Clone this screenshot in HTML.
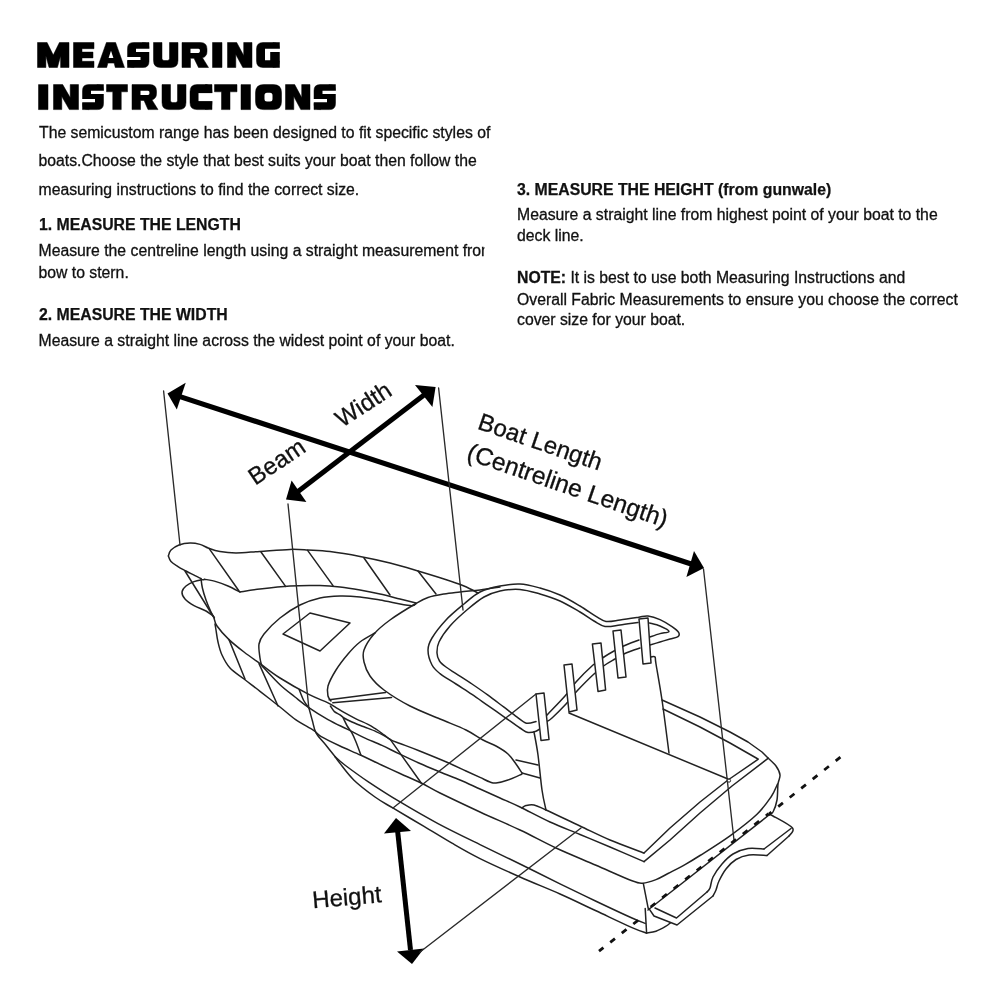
<!DOCTYPE html>
<html><head><meta charset="utf-8"><title>Measuring Instructions</title>
<style>
html,body{margin:0;padding:0;background:#fff;}
body{width:1000px;height:1000px;overflow:hidden;position:relative;}
svg{position:absolute;left:0;top:0;will-change:transform;}
text{font-family:"Liberation Sans",sans-serif;fill:#111;}
.b{font-size:15.77px;stroke:#111;stroke-width:0.3px;}
.h{font-size:15.8px;font-weight:bold;stroke:#111;stroke-width:0.25px;}
.t{font-size:31px;font-weight:bold;fill:#000;stroke:#000;stroke-width:2.2px;stroke-linejoin:miter;letter-spacing:0.9px;}
.lab{font-size:24px;fill:#111;stroke:#111;stroke-width:0.3px;}
.thin{fill:none;stroke:#2a2a2a;stroke-width:1.35;stroke-linecap:round;stroke-linejoin:round;}
.boat{fill:none;stroke:#222;stroke-width:1.5;stroke-linecap:round;stroke-linejoin:round;}
.st{fill:#fff;stroke:#222;stroke-width:1.5;stroke-linejoin:round;}
.dash{fill:none;stroke:#111;stroke-width:2.8;stroke-dasharray:6 8.7;}
.arr{stroke:#000;stroke-width:5.2;fill:none;}
.head{fill:#000;stroke:none;}
</style></head>
<body>
<svg width="1000" height="1000" viewBox="0 0 1000 1000">
<rect width="1000" height="1000" fill="#fff"/>
<!-- TITLE -->
<g id="title" fill="#000">
<path transform="translate(37.5,42.5)" stroke="#000" stroke-width="0.5" stroke-linejoin="round" d="M0.00,0.00 L9.60,0.00 L15.75,12.60 L21.90,0.00 L31.50,0.00 L31.50,25.00 L23.10,25.00 L23.10,13.50 L19.95,25.00 L11.55,25.00 L8.40,13.50 L8.40,25.00 L0.00,25.00Z"/>
<path transform="translate(73.5,42.5)" stroke="#000" stroke-width="0.5" stroke-linejoin="round" d="M0.00,0.00 L20.50,0.00 L20.50,6.20 L8.50,6.20 L8.50,9.60 L19.50,9.60 L19.50,15.40 L8.50,15.40 L8.50,18.80 L20.50,18.80 L20.50,25.00 L0.00,25.00Z"/>
<path transform="translate(97.5,42.5)" stroke="#000" stroke-width="0.5" stroke-linejoin="round" d="M8.90,0.00 L18.10,0.00 L27.00,25.00 L17.80,25.00 L16.60,20.60 L10.40,20.60 L9.20,25.00 L0.00,25.00Z"/>
<path transform="translate(97.5,42.5)" fill="#fff" d="M13.50,8.20 L11.10,15.40 L15.90,15.40Z"/>
<path transform="translate(127.5,42.5)" stroke="#000" stroke-width="0.5" stroke-linejoin="round" d="M6.00,0.00 h9.50 q6.00,0 6.00,6.00 v13.00 q0,6.00 -6.00,6.00 h-9.50 q-6.00,0 -6.00,-6.00 v-13.00 q0,-6.00 6.00,-6.00zM15.00,0.00 h6.50 v6.20 h-6.50zM0.00,18.80 h6.50 v6.20 h-6.50z"/>
<path transform="translate(127.5,42.5)" fill="#fff" d="M8.50,6.20 h21.50 v3.20 h-21.50zM-1.00,14.40 h14.00 v3.20 h-14.00z"/>
<path transform="translate(153.5,42.5)" stroke="#000" stroke-width="0.5" stroke-linejoin="round" d="M0,0 H8.50 V16.00 q0,2 2,2 H14.00 q2,0 2,-2 V0 H24.50 V18.00 q0,7 -7,7 H7 q-7,0 -7,-7Z"/>
<path transform="translate(182.0,42.5)" stroke="#000" stroke-width="0.5" stroke-linejoin="round" d="M0,0 H18.50 q6.5,0 6.5,6.5 v2.5 q0,5 -4.5,6.3 L26.50,25.00 H16.50 L12.00,15.8 H8.50 V25.00 H0Z"/>
<path transform="translate(182.0,42.5)" fill="#fff" d="M8.50,6.20 H16.50 q1.5,0 1.5,2.1 q0,2.1 -1.5,2.1 H8.50Z"/>
<path transform="translate(212.5,42.5)" stroke="#000" stroke-width="0.5" stroke-linejoin="round" d="M0.00,0.00 L9.50,0.00 L9.50,25.00 L0.00,25.00Z"/>
<path transform="translate(227.5,42.5)" stroke="#000" stroke-width="0.5" stroke-linejoin="round" d="M0.00,0.00 L9.20,0.00 L16.20,13.00 L16.20,0.00 L24.50,0.00 L24.50,25.00 L15.30,25.00 L8.30,12.00 L8.30,25.00 L0.00,25.00Z"/>
<path transform="translate(256.5,42.5)" stroke="#000" stroke-width="0.5" stroke-linejoin="round" d="M6.50,0.00 h10.00 q6.50,0 6.50,6.50 v12.00 q0,6.50 -6.50,6.50 h-10.00 q-6.50,0 -6.50,-6.50 v-12.00 q0,-6.50 6.50,-6.50zM16.50,0.00 h6.50 v6.20 h-6.50zM16.50,18.50 h6.50 v6.50 h-6.50z"/>
<path transform="translate(256.5,42.5)" fill="#fff" d="M8.50,6.20 h23.00 v3.40 h-23.00zM8.50,9.50 h5.20 v8.30 h-5.20z"/>
<path transform="translate(38.5,84.6)" stroke="#000" stroke-width="0.5" stroke-linejoin="round" d="M0.00,0.00 L9.50,0.00 L9.50,25.00 L0.00,25.00Z"/>
<path transform="translate(53.5,84.6)" stroke="#000" stroke-width="0.5" stroke-linejoin="round" d="M0.00,0.00 L9.20,0.00 L16.70,13.00 L16.70,0.00 L25.00,0.00 L25.00,25.00 L15.80,25.00 L8.30,12.00 L8.30,25.00 L0.00,25.00Z"/>
<path transform="translate(82.5,84.6)" stroke="#000" stroke-width="0.5" stroke-linejoin="round" d="M6.00,0.00 h9.00 q6.00,0 6.00,6.00 v13.00 q0,6.00 -6.00,6.00 h-9.00 q-6.00,0 -6.00,-6.00 v-13.00 q0,-6.00 6.00,-6.00zM14.50,0.00 h6.50 v6.20 h-6.50zM0.00,18.80 h6.50 v6.20 h-6.50z"/>
<path transform="translate(82.5,84.6)" fill="#fff" d="M8.50,6.20 h21.00 v3.20 h-21.00zM-1.00,14.40 h13.50 v3.20 h-13.50z"/>
<path transform="translate(106.5,84.6)" stroke="#000" stroke-width="0.5" stroke-linejoin="round" d="M0.00,0.00 L21.00,0.00 L21.00,7.20 L14.75,7.20 L14.75,25.00 L6.25,25.00 L6.25,7.20 L0.00,7.20Z"/>
<path transform="translate(132.0,84.6)" stroke="#000" stroke-width="0.5" stroke-linejoin="round" d="M0,0 H18.00 q6.5,0 6.5,6.5 v2.5 q0,5 -4.5,6.3 L26.00,25.00 H16.00 L12.00,15.8 H8.50 V25.00 H0Z"/>
<path transform="translate(132.0,84.6)" fill="#fff" d="M8.50,6.20 H16.00 q1.5,0 1.5,2.1 q0,2.1 -1.5,2.1 H8.50Z"/>
<path transform="translate(162.0,84.6)" stroke="#000" stroke-width="0.5" stroke-linejoin="round" d="M0,0 H8.50 V16.00 q0,2 2,2 H13.50 q2,0 2,-2 V0 H24.00 V18.00 q0,7 -7,7 H7 q-7,0 -7,-7Z"/>
<path transform="translate(190.0,84.6)" stroke="#000" stroke-width="0.5" stroke-linejoin="round" d="M7.00,0.00 h8.00 q7.00,0 7.00,7.00 v11.00 q0,7.00 -7.00,7.00 h-8.00 q-7.00,0 -7.00,-7.00 v-11.00 q0,-7.00 7.00,-7.00zM15.50,0.00 h6.50 v8.50 h-6.50zM15.50,16.50 h6.50 v8.50 h-6.50z"/>
<path transform="translate(190.0,84.6)" fill="#fff" d="M8.50,8.50 h22.00 v8.00 h-22.00z"/>
<path transform="translate(214.5,84.6)" stroke="#000" stroke-width="0.5" stroke-linejoin="round" d="M0.00,0.00 L22.50,0.00 L22.50,7.20 L15.50,7.20 L15.50,25.00 L7.00,25.00 L7.00,7.20 L0.00,7.20Z"/>
<path transform="translate(241.0,84.6)" stroke="#000" stroke-width="0.5" stroke-linejoin="round" d="M0.00,0.00 L9.50,0.00 L9.50,25.00 L0.00,25.00Z"/>
<path transform="translate(255.5,84.6)" stroke="#000" stroke-width="0.5" stroke-linejoin="round" d="M8.00,0.00 h10.00 q8.00,0 8.00,8.00 v9.00 q0,8.00 -8.00,8.00 h-10.00 q-8.00,0 -8.00,-8.00 v-9.00 q0,-8.00 8.00,-8.00z"/>
<path transform="translate(255.5,84.6)" fill="#fff" d="M11.50,8.20 h3.00 q2.50,0 2.50,2.50 v3.60 q0,2.50 -2.50,2.50 h-3.00 q-2.50,0 -2.50,-2.50 v-3.60 q0,-2.50 2.50,-2.50z"/>
<path transform="translate(285.5,84.6)" stroke="#000" stroke-width="0.5" stroke-linejoin="round" d="M0.00,0.00 L9.20,0.00 L16.20,13.00 L16.20,0.00 L24.50,0.00 L24.50,25.00 L15.30,25.00 L8.30,12.00 L8.30,25.00 L0.00,25.00Z"/>
<path transform="translate(314.0,84.6)" stroke="#000" stroke-width="0.5" stroke-linejoin="round" d="M6.00,0.00 h9.50 q6.00,0 6.00,6.00 v13.00 q0,6.00 -6.00,6.00 h-9.50 q-6.00,0 -6.00,-6.00 v-13.00 q0,-6.00 6.00,-6.00zM15.00,0.00 h6.50 v6.20 h-6.50zM0.00,18.80 h6.50 v6.20 h-6.50z"/>
<path transform="translate(314.0,84.6)" fill="#fff" d="M8.50,6.20 h21.50 v3.20 h-21.50zM-1.00,14.40 h14.00 v3.20 h-14.00z"/>
</g>
<!-- LEFT TEXT -->
<g id="lefttext">
<text class="b" x="39" y="138.2">The semicustom range has been designed to fit specific styles of</text>
<text class="b" x="38.5" y="166.3">boats.Choose the style that best suits your boat then follow the</text>
<text class="b" x="38.5" y="194.5">measuring instructions to find the correct size.</text>
<text class="h" x="39" y="229.5">1. MEASURE THE LENGTH</text>
<text class="b" x="38.5" y="256.2">Measure the centreline length using a straight measurement from</text>
<text class="b" x="38.5" y="277.5">bow to stern.</text>
<text class="h" x="39" y="319.5">2. MEASURE THE WIDTH</text>
<text class="b" x="38.5" y="345.5">Measure a straight line across the widest point of your boat.</text>
<rect x="484.5" y="240" width="20" height="24" fill="#fff"/>
</g>
<!-- RIGHT TEXT -->
<g id="righttext">
<text class="h" x="517" y="194.5">3. MEASURE THE HEIGHT (from gunwale)</text>
<text class="b" x="517" y="220">Measure a straight line from highest point of your boat to the</text>
<text class="b" x="517" y="241.3">deck line.</text>
<text class="b" x="517" y="283.3"><tspan font-weight="bold">NOTE:</tspan> It is best to use both Measuring Instructions and</text>
<text class="b" x="517" y="304.5">Overall Fabric Measurements to ensure you choose the correct</text>
<text class="b" x="517" y="325">cover size for your boat.</text>
</g>
<!-- ARROWS -->
<g id="arrows">
<line class="arr" x1="180" y1="396.6" x2="692" y2="564.2"/>
<polygon class="head" points="167.5,393.5 185.7,382.8 176.8,409.6"/>
<polygon class="head" points="704,568 694,551 686.4,577"/>
<line class="arr" style="stroke-width:5" x1="298" y1="491.5" x2="424" y2="395"/>
<polygon class="head" points="286,499.6 291.6,480.6 306.4,502"/>
<polygon class="head" points="435.6,387 415,385 432.4,407"/>
<line class="arr" stroke-width="5" x1="397.5" y1="830" x2="410.5" y2="950" style="stroke-width:5"/>
<polygon class="head" points="396,818 384,833.6 411,831"/>
<polygon class="head" points="412,964 397,951.6 424,948.4"/>
</g>
<!-- LABELS -->
<g id="labels">
<text class="lab" transform="translate(255.3,485.8) rotate(-34)">Beam</text>
<text class="lab" transform="translate(342,428) rotate(-33)">Width</text>
<text class="lab" transform="translate(476.5,428.5) rotate(19)">Boat Length</text>
<text class="lab" style="font-size:24.6px" transform="translate(465.5,459) rotate(19)">(Centreline Length)</text>
<text class="lab" transform="translate(313,908.3) rotate(-5)">Height</text>
</g>
<!-- THIN PROJECTION LINES -->
<g id="proj"></g>
<!-- BOAT -->
<g id="boat">
<path class="boat" d="M168.4,556.0 C168.8,555.0 169.2,551.8 171.0,550.0 C172.8,548.2 175.8,546.2 179.0,545.0 C182.2,543.8 186.5,543.1 190.0,543.0 C193.5,542.9 196.8,543.5 200.0,544.4 C203.2,545.3 205.7,547.2 209.0,548.4 C212.3,549.6 215.5,550.8 220.0,551.6 C224.5,552.4 229.3,553.0 236.0,553.0 C242.7,553.0 251.0,552.0 260.0,551.4 C269.0,550.8 282.0,549.6 290.0,549.4 C298.0,549.2 301.3,549.6 308.0,550.0 C314.7,550.4 321.3,550.5 330.0,551.6 C338.7,552.7 350.0,554.6 360.0,556.5 C370.0,558.4 380.3,560.6 390.0,563.0 C399.7,565.4 409.0,568.3 418.0,571.0 C427.0,573.7 436.3,576.5 444.0,579.0 C451.7,581.5 458.3,583.7 464.0,586.0 C469.7,588.3 475.7,591.8 478.0,593.0"/>
<path class="boat" d="M168.4,556.0 C168.8,556.9 169.4,559.8 171.0,561.6 C172.6,563.4 175.5,565.0 178.0,566.6 C180.5,568.2 183.2,569.5 186.0,571.0 C188.8,572.5 192.5,574.3 195.0,575.6 C197.5,576.9 200.0,578.1 201.0,578.6"/>
<path class="boat" d="M204.4,579.2 C206.3,579.6 212.1,580.5 216.0,581.6 C219.9,582.7 224.0,584.3 228.0,586.0 C232.0,587.7 238.0,591.0 240.0,592.0"/>
<path class="boat" d="M240.0,592.0 C243.3,591.5 251.7,590.0 260.0,589.0 C268.3,588.0 280.0,586.6 290.0,586.0 C300.0,585.4 311.7,585.4 320.0,585.6 C328.3,585.8 333.3,586.3 340.0,587.0 C346.7,587.7 353.3,588.8 360.0,590.0 C366.7,591.2 373.3,592.5 380.0,594.0 C386.7,595.5 394.0,597.5 400.0,599.0 C406.0,600.5 413.3,602.3 416.0,603.0"/>
<path class="boat" d="M209.0,548.4 L239.0,591.0"/>
<path class="boat" d="M261.0,552.0 L285.6,586.4"/>
<path class="boat" d="M307.6,550.4 L333.0,585.6"/>
<path class="boat" d="M364.0,558.0 L390.0,595.0"/>
<path class="boat" d="M418.0,571.0 L436.0,594.0"/>
<path class="boat" d="M204.4,579.4 C202.7,579.8 197.1,580.5 194.0,581.6 C190.9,582.7 188.0,584.3 186.0,586.0 C184.0,587.7 182.2,589.8 182.0,592.0 C181.8,594.2 183.0,596.7 185.0,599.0 C187.0,601.3 190.5,603.6 194.0,605.6 C197.5,607.6 202.7,609.2 206.0,611.0 C209.3,612.8 212.3,615.5 213.6,616.4"/>
<path class="boat" d="M185.0,571.0 L213.6,617.0"/>
<path class="boat" d="M201.0,578.6 C201.2,580.2 201.6,584.4 202.4,588.0 C203.2,591.6 204.6,596.0 206.0,600.0 C207.4,604.0 209.6,609.0 211.0,612.0 C212.4,615.0 213.8,617.0 214.4,618.0"/>
<path class="boat" d="M214.0,618.0 C214.5,619.3 214.5,622.4 217.0,626.0 C219.5,629.6 224.5,635.3 229.0,639.6 C233.5,643.9 238.8,648.0 244.0,652.0 C249.2,656.0 254.0,659.3 260.0,663.6 C266.0,667.9 271.9,672.9 280.0,678.0 C288.1,683.1 300.8,690.3 308.8,694.4 C316.8,698.5 323.5,700.6 328.0,702.8 C332.5,705.0 333.3,706.0 336.0,707.6 C338.7,709.2 340.7,710.5 344.0,712.4 C347.3,714.3 352.0,716.8 356.0,718.8 C360.0,720.8 364.7,722.7 368.0,724.4 C371.3,726.1 373.3,727.5 376.0,729.2 C378.7,730.9 381.6,733.1 384.0,734.8 C386.4,736.5 387.7,738.1 390.4,739.6 C393.1,741.1 395.3,741.7 400.0,743.5 C404.7,745.3 410.7,747.4 418.4,750.5 C426.1,753.6 438.5,758.6 446.4,762.0 C454.3,765.4 460.4,768.4 466.0,771.0 C471.6,773.6 476.0,775.6 480.0,777.4 C484.0,779.2 487.3,781.1 490.0,782.0 C492.7,782.9 493.0,783.3 496.0,783.0 C499.0,782.7 503.7,781.5 508.0,780.0 C512.3,778.5 519.7,775.0 522.0,774.0"/>
<path class="boat" d="M330.4,706.0 C331.1,706.9 332.8,710.1 334.4,711.6 C336.0,713.1 338.4,713.7 340.0,714.8 C341.6,715.9 342.0,716.8 344.0,718.0 C346.0,719.2 348.7,720.5 352.0,722.0 C355.3,723.5 360.0,725.2 364.0,726.8 C368.0,728.4 372.7,730.1 376.0,731.6 C379.3,733.1 381.6,734.3 384.0,735.6 C386.4,736.9 389.3,738.9 390.4,739.6"/>
<path class="boat" d="M262.0,666.0 C265.0,669.1 274.5,679.6 280.0,684.8 C285.5,690.0 290.2,693.2 295.0,697.0 C299.8,700.8 303.3,703.8 308.8,707.6 C314.3,711.4 321.6,716.0 328.0,719.6 C334.4,723.2 341.2,726.2 347.2,729.2 C353.2,732.2 358.2,734.9 364.0,737.6 C369.8,740.3 376.2,742.7 382.0,745.4 C387.8,748.1 392.5,750.6 398.8,753.6 C405.1,756.6 413.1,760.4 420.0,763.5 C426.9,766.6 433.3,769.2 440.0,772.0 C446.7,774.8 453.3,777.2 460.0,780.0 C466.7,782.8 473.3,786.0 480.0,789.0 C486.7,792.0 493.3,795.0 500.0,798.0 C506.7,801.0 511.7,803.0 520.0,807.0 C528.3,811.0 540.0,817.4 550.0,822.0 C560.0,826.6 570.0,830.3 580.0,834.5 C590.0,838.7 599.3,842.5 610.0,847.0 C620.7,851.5 638.3,859.2 644.0,861.6"/>
<path class="boat" d="M215.0,624.0 C215.2,625.0 215.5,627.0 216.0,630.0 C216.5,633.0 217.0,637.8 218.0,642.0 C219.0,646.2 220.0,650.7 222.0,655.0 C224.0,659.3 226.3,664.0 230.0,668.0 C233.7,672.0 239.0,675.1 244.0,679.0 C249.0,682.9 254.0,686.6 260.0,691.3 C266.0,696.0 274.1,702.3 280.0,707.0 C285.9,711.7 290.0,715.7 295.6,719.6 C301.2,723.5 309.4,727.6 313.6,730.4 C317.8,733.2 316.4,733.8 320.8,736.4 C325.2,739.0 333.3,742.9 340.0,746.0 C346.7,749.1 354.0,752.1 361.0,755.3 C368.0,758.5 375.5,762.2 382.0,765.2 C388.5,768.2 393.5,770.5 400.0,773.5 C406.5,776.5 414.5,779.8 421.2,783.0 C427.9,786.2 430.2,788.2 440.0,793.0 C449.8,797.8 466.7,805.8 480.0,812.0 C493.3,818.2 507.3,824.0 520.0,830.0 C532.7,836.0 543.3,842.1 556.0,848.0 C568.7,853.9 583.3,859.7 596.0,865.2 C608.7,870.7 624.2,877.8 632.0,880.8 C639.8,883.8 638.8,883.4 642.8,883.2 C646.8,883.0 651.8,881.2 656.0,879.6 C660.2,878.0 663.2,876.0 668.0,873.5 C672.8,871.0 679.7,867.6 685.0,864.6 C690.3,861.6 692.5,860.3 700.0,855.5 C707.5,850.7 720.5,842.7 730.0,835.8 C739.5,828.9 750.2,820.7 757.0,814.2 C763.8,807.7 767.6,802.0 771.0,797.0 C774.4,792.0 776.4,786.2 777.5,784.0"/>
<path class="boat" d="M308.8,707.6 C309.4,709.8 311.2,716.6 312.4,720.8 C313.6,725.0 313.8,728.8 316.0,732.8 C318.2,736.8 322.4,740.8 325.6,744.8 C328.8,748.8 333.6,754.8 335.2,756.8"/>
<path class="boat" d="M335.2,756.8 C336.8,758.2 339.3,760.9 344.8,765.0 C350.3,769.1 359.0,775.6 368.0,781.6 C377.0,787.6 387.1,794.2 398.8,801.2 C410.5,808.2 424.5,816.4 438.0,823.6 C451.5,830.8 466.3,837.9 480.0,844.6 C493.7,851.3 506.7,857.5 520.0,864.0 C533.3,870.5 547.3,877.6 560.0,883.8 C572.7,890.0 584.0,895.5 596.0,901.2 C608.0,906.9 623.8,914.3 632.0,918.0 C640.2,921.7 643.0,922.5 645.2,923.4"/>
<path class="boat" d="M335.2,756.8 C336.0,757.9 336.9,759.5 340.0,763.4 C343.1,767.3 348.2,774.6 354.0,780.2 C359.8,785.8 368.5,792.3 375.0,797.0 C381.5,801.7 385.0,803.3 393.2,808.2 C401.4,813.1 414.2,820.6 424.0,826.4 C433.8,832.2 442.7,837.8 452.0,843.2 C461.3,848.6 468.7,853.0 480.0,858.6 C491.3,864.2 506.7,871.1 520.0,877.0 C533.3,882.9 547.3,888.4 560.0,894.0 C572.7,899.6 584.0,905.2 596.0,910.8 C608.0,916.4 623.6,923.9 632.0,927.6 C640.4,931.3 644.0,932.1 646.4,933.0"/>
<path class="boat" d="M229.0,639.6 L245.0,679.0"/>
<path class="boat" d="M259.0,663.6 L278.0,706.0"/>
<path class="boat" d="M299.2,689.6 C300.0,691.5 302.4,698.0 304.0,701.0 C305.6,704.0 308.0,706.5 308.8,707.6"/>
<path class="boat" d="M343.2,718.0 C343.9,719.3 345.7,723.5 347.2,726.0 C348.7,728.5 350.5,730.5 352.0,733.2 C353.5,735.9 354.5,738.4 356.0,742.0 C357.5,745.6 360.0,752.7 360.8,754.8"/>
<path class="boat" d="M390.4,739.6 L421.2,783.0"/>
<path class="boat" d="M416.0,603.6 C415.0,603.9 416.0,606.2 410.0,605.6 C404.0,605.0 388.3,601.4 380.0,600.0 C371.7,598.6 366.7,597.7 360.0,597.0 C353.3,596.3 346.7,595.8 340.0,596.0 C333.3,596.2 326.7,596.5 320.0,598.0 C313.3,599.5 306.7,601.7 300.0,605.0 C293.3,608.3 286.0,613.2 280.0,618.0 C274.0,622.8 267.5,629.7 264.0,634.0 C260.5,638.3 259.7,640.0 259.0,644.0 C258.3,648.0 259.6,654.5 260.0,658.0 C260.4,661.5 261.3,664.0 261.6,665.2"/>
<path class="boat" d="M283.0,634.0 L310.0,613.0 L350.0,623.0 L320.0,651.0Z"/>
<path class="boat" d="M375.0,633.0 C372.5,634.5 364.5,638.5 360.0,642.0 C355.5,645.5 352.0,649.3 348.0,654.0 C344.0,658.7 339.3,664.7 336.0,670.0 C332.7,675.3 329.3,681.7 328.0,686.0 C326.7,690.3 327.5,693.5 328.0,696.0 C328.5,698.5 330.5,700.2 331.0,701.0"/>
<path class="boat" d="M500.0,587.0 C496.7,587.5 486.7,589.2 480.0,590.0 C473.3,590.8 466.0,591.3 460.0,592.0 C454.0,592.7 449.3,593.1 444.0,594.0 C438.7,594.9 432.7,595.9 428.0,597.5 C423.3,599.1 422.3,599.8 416.0,603.5 C409.7,607.2 397.0,614.9 390.0,620.0 C383.0,625.1 378.3,629.0 374.0,634.0 C369.7,639.0 365.7,645.3 364.0,650.0 C362.3,654.7 363.0,657.7 364.0,662.0 C365.0,666.3 366.7,671.3 370.0,676.0 C373.3,680.7 377.3,685.0 384.0,690.0 C390.7,695.0 400.7,701.2 410.0,706.0 C419.3,710.8 430.7,715.0 440.0,719.0 C449.3,723.0 458.8,726.5 466.0,730.0 C473.2,733.5 478.0,737.3 483.0,740.0 C488.0,742.7 491.8,743.7 496.0,746.0 C500.2,748.3 504.7,751.0 508.0,754.0 C511.3,757.0 513.7,760.8 516.0,764.0 C518.3,767.2 521.0,771.5 522.0,773.0"/>
<path class="boat" d="M329.2,699.8 L385.6,692.6"/>
<path class="boat" d="M332.8,702.8 L391.6,697.4"/>
<path class="boat" d="M516.0,760.0 L538.0,765.0"/>
<path class="boat" d="M522.0,773.0 L540.0,778.0"/>
<path class="boat" d="M541.0,728.0 C540.2,728.5 538.2,730.5 536.0,731.2 C533.8,732.0 530.7,733.0 528.0,732.5 C525.3,732.0 524.0,730.6 520.0,728.0 C516.0,725.4 509.3,720.5 504.0,716.8 C498.7,713.1 493.3,709.3 488.0,705.6 C482.7,701.9 477.3,698.0 472.0,694.4 C466.7,690.8 461.3,687.5 456.0,684.0 C450.7,680.5 444.0,676.8 440.0,673.6 C436.0,670.4 434.0,668.9 432.0,665.0 C430.0,661.1 428.0,654.5 428.0,650.0 C428.0,645.5 429.0,643.0 432.0,638.0 C435.0,633.0 440.7,625.7 446.0,620.0 C451.3,614.3 458.3,608.7 464.0,604.0 C469.7,599.3 474.0,595.0 480.0,592.0 C486.0,589.0 493.3,587.3 500.0,586.0 C506.7,584.7 513.3,583.7 520.0,584.0 C526.7,584.3 533.3,586.2 540.0,588.0 C546.7,589.8 553.3,592.0 560.0,595.0 C566.7,598.0 574.0,602.4 580.0,606.0 C586.0,609.6 591.7,613.8 596.0,616.4 C600.3,619.0 602.0,620.8 606.0,621.4 C610.0,622.0 614.7,620.7 620.0,620.0 C625.3,619.3 633.3,618.1 638.0,617.4 C642.7,616.7 644.3,615.6 648.0,616.0 C651.7,616.4 656.0,617.8 660.0,619.6 C664.0,621.4 668.9,624.5 672.0,626.6 C675.1,628.7 677.6,630.7 678.6,632.4 C679.6,634.1 679.4,635.5 678.0,636.6 C676.6,637.7 673.0,638.1 670.0,639.0 C667.0,639.9 663.3,641.0 660.0,642.0 C656.7,643.0 651.7,644.5 650.0,645.0"/>
<path class="boat" d="M536.0,721.6 C534.4,721.9 529.6,724.0 526.4,723.2 C523.2,722.4 520.5,719.5 516.8,716.8 C513.1,714.1 508.8,710.8 504.0,707.2 C499.2,703.6 493.3,699.1 488.0,695.2 C482.7,691.3 477.3,687.6 472.0,684.0 C466.7,680.4 460.3,676.4 456.0,673.6 C451.7,670.8 448.8,669.1 446.0,667.0 C443.2,664.9 441.0,663.3 439.5,661.0 C438.0,658.7 437.1,656.2 437.0,653.0 C436.9,649.8 436.8,646.5 439.0,642.0 C441.2,637.5 445.2,631.5 450.0,626.0 C454.8,620.5 462.3,613.8 468.0,609.0 C473.7,604.2 478.7,600.0 484.0,597.0 C489.3,594.0 494.0,592.3 500.0,591.0 C506.0,589.7 513.3,588.9 520.0,589.4 C526.7,589.9 533.3,592.1 540.0,594.0 C546.7,595.9 553.3,598.0 560.0,601.0 C566.7,604.0 574.3,608.7 580.0,612.0 C585.7,615.3 589.8,618.6 594.0,621.0 C598.2,623.4 600.7,625.7 605.0,626.4 C609.3,627.1 614.5,625.7 620.0,625.0 C625.5,624.3 635.0,622.8 638.0,622.4"/>
<path class="boat" d="M649.6,623.0 C651.3,623.5 656.8,624.6 660.0,626.0 C663.2,627.4 669.0,630.1 669.0,631.4 C669.0,632.7 663.2,632.7 660.0,633.6 C656.8,634.5 651.7,636.4 650.0,637.0"/>
<path class="boat" d="M639.0,640.0 C636.8,640.8 630.2,643.2 626.0,645.0 C621.8,646.8 617.7,649.0 614.0,651.0 C610.3,653.0 607.5,654.7 604.0,657.0 C600.5,659.3 597.7,660.8 593.0,665.0 C588.3,669.2 580.7,676.8 576.0,682.0 C571.3,687.2 569.7,690.7 565.0,696.0 C560.3,701.3 551.3,710.5 548.0,714.0 C544.7,717.5 545.5,716.5 545.0,717.0"/>
<path class="boat" d="M640.0,648.0 C637.7,648.8 630.2,651.2 626.0,653.0 C621.8,654.8 618.5,657.0 615.0,659.0 C611.5,661.0 608.5,662.5 605.0,665.0 C601.5,667.5 598.7,669.7 594.0,674.0 C589.3,678.3 581.7,686.0 577.0,691.0 C572.3,696.0 570.2,699.5 566.0,704.0 C561.8,708.5 555.3,715.0 552.0,718.0 C548.7,721.0 547.0,721.3 546.0,722.0"/>
<path class="st" d="M639.0,619.0 L648.0,618.0 L651.0,663.0 L643.0,664.0Z"/>
<path class="st" d="M613.0,631.0 L621.0,630.0 L626.0,677.0 L618.0,678.0Z"/>
<path class="st" d="M592.4,644.0 L601.0,643.0 L605.6,690.0 L598.0,691.4Z"/>
<path class="st" d="M564.0,665.0 L572.0,664.0 L577.0,710.0 L569.0,712.0Z"/>
<path class="st" d="M536.0,694.0 L544.0,693.0 L549.0,739.5 L541.0,740.5Z"/>
<path class="boat" d="M569.0,713.0 L728.0,779.0"/>
<path class="boat" d="M651.0,657.0 C651.7,657.0 654.2,655.8 655.0,657.0 C655.8,658.2 654.8,656.8 656.0,664.0 C657.2,671.2 659.8,685.2 662.0,700.0 C664.2,714.8 667.8,744.2 669.0,753.0"/>
<path class="boat" d="M534.0,732.0 C534.7,735.8 536.7,745.3 538.0,755.0 C539.3,764.7 540.7,780.8 542.0,790.0 C543.3,799.2 545.3,806.7 546.0,810.0"/>
<path class="boat" d="M522.0,808.0 C522.7,807.6 524.0,806.1 526.0,805.6 C528.0,805.1 530.7,804.3 534.0,805.0 C537.3,805.7 538.3,806.5 546.0,810.0 C553.7,813.5 569.3,821.0 580.0,826.0 C590.7,831.0 599.3,835.5 610.0,840.0 C620.7,844.5 638.3,850.8 644.0,853.0"/>
<path class="boat" d="M644.0,853.0 L670.0,828.0 L700.0,802.0 L728.0,780.0 L758.0,759.4"/>
<path class="boat" d="M644.0,861.6 L670.0,840.0 L700.0,813.0 L732.0,786.0 L768.0,758.4"/>
<path class="boat" d="M662.0,700.0 L700.0,717.0 L730.0,732.0 L748.0,742.0 L762.0,752.0 L768.0,758.0"/>
<path class="boat" d="M663.0,709.0 L700.0,727.0 L730.0,743.0 L758.0,759.0"/>
<path class="boat" d="M768.0,758.0 C769.3,759.3 774.0,763.2 776.0,766.0 C778.0,768.8 779.7,772.0 780.0,775.0 C780.3,778.0 778.5,779.8 778.0,784.0 C777.5,788.2 777.8,795.3 777.0,800.0 C776.2,804.7 774.3,809.5 773.0,812.0 C771.7,814.5 769.7,814.5 769.0,815.0"/>
<path class="boat" d="M643.4,883.8 L648.2,908.4"/>
<path class="boat" d="M645.2,908.4 L646.6,933.0"/>
<path class="boat" d="M646.4,933.0 C648.0,932.7 652.8,932.3 656.0,931.2 C659.2,930.1 663.2,927.8 665.6,926.4 C668.0,925.0 669.6,923.4 670.4,922.8"/>
<path class="boat" d="M769.0,815.0 L648.0,910.0"/>
<path class="boat" d="M769.0,815.0 C769.7,815.2 769.1,813.8 773.0,816.0 C776.9,818.2 789.8,824.7 792.5,828.0 C795.2,831.3 789.6,834.7 789.0,836.0"/>
<path class="boat" d="M789.0,836.0 L767.0,855.5"/>
<path class="boat" d="M767.0,855.5 C764.0,855.4 754.2,854.3 749.0,855.0 C743.8,855.7 739.8,857.2 736.0,859.5 C732.2,861.8 728.8,865.4 726.0,869.0 C723.2,872.6 720.7,877.5 719.0,881.0 C717.3,884.5 717.0,887.5 716.0,890.0 C715.0,892.5 713.5,895.0 713.0,896.0"/>
<path class="boat" d="M713.0,896.0 L677.0,925.0 L654.0,916.0 L648.8,908.4"/>
<path class="boat" d="M791.0,828.5 L764.0,849.0"/>
<path class="boat" d="M764.0,849.0 C761.3,848.9 753.2,847.7 748.0,848.5 C742.8,849.3 737.3,851.4 733.0,854.0 C728.7,856.6 725.3,860.2 722.0,864.0 C718.7,867.8 715.0,873.0 713.0,877.0 C711.0,881.0 711.0,885.5 710.0,888.0 C709.0,890.5 707.5,891.3 707.0,892.0"/>
<path class="boat" d="M707.0,892.0 L676.5,918.0 L655.0,908.0"/>
<path class="thin" d="M163.6,391.0 L180.0,545.0"/>
<path class="thin" d="M288.0,504.0 L308.8,707.6"/>
<path class="thin" d="M438.6,388.0 L463.0,610.0"/>
<path class="thin" d="M703.5,569.0 L734.0,840.0"/>
<path class="thin" d="M420.0,952.0 L581.0,828.0"/>
<path class="thin" d="M393.0,808.0 L536.0,694.0"/>
</g><!--endboat-->
<circle cx="729" cy="780.6" r="1.6" class="st" style="stroke-width:1"/>
<path class="dash" d="M840.4,757.1 L769,814"/>
<path class="dash" style="stroke-width:2.6" d="M768.6,813.5 L647.6,909.3" stroke-dashoffset="2.5"/>
<path class="dash" d="M638,920.3 L599,951.2"/>
</svg>
</body></html>
